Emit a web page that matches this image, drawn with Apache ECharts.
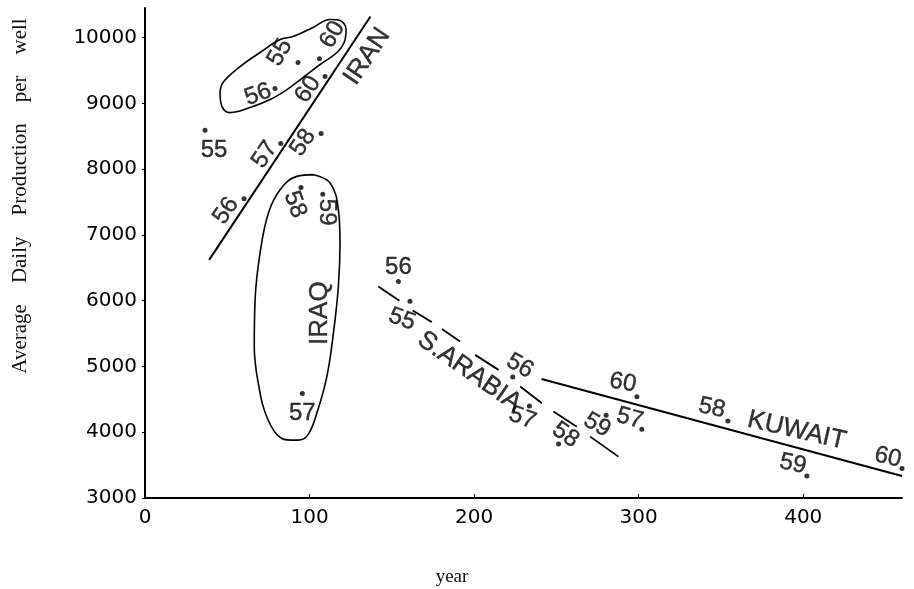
<!DOCTYPE html>
<html><head><meta charset="utf-8">
<script src="https://cdn.jsdelivr.net/npm/echarts@6/dist/echarts.min.js"></script>
<style>html,body{margin:0;padding:0;background:#fff}#c{width:914px;height:589px}</style>
</head><body><div id="c"></div>
<script>
// ---- data ----
const xTicks = [0, 100, 200, 300, 400];
const yTicks = [3000, 4000, 5000, 6000, 7000, 8000, 9000, 10000];

const iranYears = ['55', '55', '60', '56', '60', '58', '57', '56'];
const iranX = [36.5, 93, 106, 79, 109.4, 107, 82.5, 60.2];
const iranY = [8590, 9620, 9680, 9225, 9408, 8540, 8388, 7551];

const iraqYears = ['58', '59', '57'];
const iraqX = [94.8, 108, 95.6];
const iraqY = [7720, 7620, 4590];

const saudiYears = ['56', '55', '56', '57', '58', '59'];
const saudiX = [154, 161, 223.5, 233.6, 251.3, 280.2];
const saudiY = [6290, 5990, 4840, 4400, 3820, 4260];

const kuwaitYears = ['60', '57', '58', '59', '60'];
const kuwaitX = [298.9, 301.9, 354.2, 402.2, 460];
const kuwaitY = [4540, 4045, 4170, 3335, 3450];

const iranTrend = [[39, 6620], [137, 10320]];
const kuwaitTrend = [[241, 4810], [460, 3335]];
const saudiTrend = [
  [[141.8, 6216], [154.6, 5998]],
  [[162.7, 5851], [174.3, 5674]],
  [[180.4, 5568], [191.5, 5379]],
  [[200.6, 5176], [214.8, 4948]],
  [[228, 4694], [241.2, 4441]]
];
const saudiTrend2 = [
  [[248.2, 4314], [262.4, 4085]],
  [[270.5, 3933], [287.7, 3629]]
];

const iranOutline = [[45.6,9164],[47.4,9317],[57.8,9560],[69.9,9773],[82.1,9971],[90,10017],[102.1,10154],[112.5,10276],[118.5,10260],[122.2,10123],[121,9925],[116.7,9773],[106.4,9591],[96,9393],[86.3,9210],[76,9058],[63.8,8936],[51.7,8860],[46.8,8951],[45.6,9164]];
const iraqOutline = [[102.3,7916],[112.5,7790],[117.5,7383],[118.5,6877],[117.5,6216],[114.5,5507],[110.5,4846],[104.4,4289],[99,3960],[93,3880],[86.1,3883],[79,4000],[73,4300],[69.9,4593],[66.4,5303],[66.9,6014],[69.9,6724],[75,7333],[82.1,7688],[92.2,7890],[102.3,7916]];

const countryNames = ['IRAN', 'IRAQ', 'S.ARABIA', 'KUWAIT'];
const countryX = [135, 106.4, 197.1, 396];
const countryY = [9712, 5811, 4922, 4024];

// ---- label layout (pixel offsets from dot, rotation in degrees) ----
const iranLayout = [[9,20,0],[-18,-10,60],[13,-24,60],[-17,6,20],[-17,13,56],[-18,9,56],[-16,11,56],[-18,12,56]];
const iraqLayout = [[-6,17,-70],[4,18,-90],[0,20,0]];
const saudiLayout = [[0,-14,0],[-8,18,-20],[7,-11,-30],[-7,12,-20],[7,-9,-35],[-9,10,-30]];
const kuwaitLayout = [[-14,-14,-10],[-12,-11,-15],[-16,-13,-12],[-14,-12,-12],[-14,-11,-12]];
const nameRot = [56, 90, -35, -13];

const INK = '#000';
const labelFont = '"Liberation Sans", Arial, sans-serif';

function pointSeries(years, xs, ys, layout) {
  return {
    type: 'scatter',
    symbol: 'circle',
    symbolSize: 5,
    itemStyle: { color: INK },
    clip: false,
    data: xs.map((x, i) => ({ value: [x, ys[i]], name: years[i] })),
    label: {
      show: true,
      formatter: p => years[p.dataIndex],
      fontFamily: labelFont,
      fontSize: 24,
      color: INK,
      textBorderColor: INK,
      textBorderWidth: 0.4
    },
    labelLayout: function (p) {
      const L = layout[p.dataIndex];
      return {
        x: p.rect.x + p.rect.width / 2 + L[0],
        y: p.rect.y + p.rect.height / 2 + L[1],
        rotate: L[2],
        align: 'center',
        verticalAlign: 'middle'
      };
    },
    emphasis: { disabled: true },
    z: 5
  };
}

function outline(data) {
  return { type: 'line', data: data, smooth: 0.4, symbol: 'none', clip: false,
    lineStyle: { color: INK, width: 1.6 }, emphasis: { disabled: true } };
}

const chart = echarts.init(document.getElementById('c'), null, { renderer: 'canvas' });
chart.setOption({
  animation: false,
  backgroundColor: '#fff',
  grid: { left: 145, right: 12, top: 8, bottom: 91 },
  xAxis: {
    type: 'value', min: 0, max: 460, interval: 100,
    axisLine: { show: true, lineStyle: { color: INK, width: 2 } },
    axisTick: { show: true, inside: true, length: 4, customValues: xTicks, lineStyle: { color: INK } },
    axisLabel: { customValues: xTicks, margin: 10, fontFamily: '"DejaVu Sans"', fontSize: 20, color: INK,
      formatter: v => String(v) },
    splitLine: { show: false }
  },
  yAxis: {
    type: 'value', min: 3000, max: 10450, interval: 1000,
    axisLine: { show: true, lineStyle: { color: INK, width: 2 } },
    axisTick: { show: true, length: 3, customValues: yTicks, lineStyle: { color: INK } },
    axisLabel: { customValues: yTicks, margin: 8, fontFamily: '"DejaVu Sans"', fontSize: 20, color: INK,
      formatter: v => String(v) },
    splitLine: { show: false }
  },
  graphic: [
    { type: 'text', x: 20, y: 196, rotation: Math.PI / 2,
      style: { text: 'Average    Daily    Production    per    well', font: '21px "Liberation Serif"', align: 'center', verticalAlign: 'middle', fill: '#111' } },
    { type: 'text', x: 452, y: 577,
      style: { text: 'year', font: '19px "Liberation Serif"', align: 'center', verticalAlign: 'middle', fill: '#111' } }
  ],
  series: [
    outline(iranOutline),
    outline(iraqOutline),
    { type: 'line', data: iranTrend, symbol: 'none', clip: false, lineStyle: { color: INK, width: 2 }, emphasis: { disabled: true } },
    { type: 'line', data: kuwaitTrend, symbol: 'none', clip: false, lineStyle: { color: INK, width: 2 }, emphasis: { disabled: true } },
    { type: 'lines', coordinateSystem: 'cartesian2d', clip: false,
      data: saudiTrend.concat(saudiTrend2).map(c => ({ coords: c })),
      lineStyle: { color: INK, width: 1.8, opacity: 1 } },
    pointSeries(iranYears, iranX, iranY, iranLayout),
    pointSeries(iraqYears, iraqX, iraqY, iraqLayout),
    pointSeries(saudiYears, saudiX, saudiY, saudiLayout),
    pointSeries(kuwaitYears, kuwaitX, kuwaitY, kuwaitLayout),
    {
      type: 'scatter', symbolSize: 1, itemStyle: { color: 'transparent' }, clip: false,
      data: countryX.map((x, i) => ({ value: [x, countryY[i]] })),
      label: {
        show: true, position: 'inside',
        formatter: p => countryNames[p.dataIndex],
        fontFamily: labelFont, fontSize: 26, color: INK,
        textBorderColor: INK, textBorderWidth: 0.4
      },
      labelLayout: function (p) {
        return { x: p.rect.x + p.rect.width / 2, y: p.rect.y + p.rect.height / 2,
          rotate: nameRot[p.dataIndex], align: 'center', verticalAlign: 'middle' };
      },
      emphasis: { disabled: true }
    }
  ]
});
</script>
</body></html>
